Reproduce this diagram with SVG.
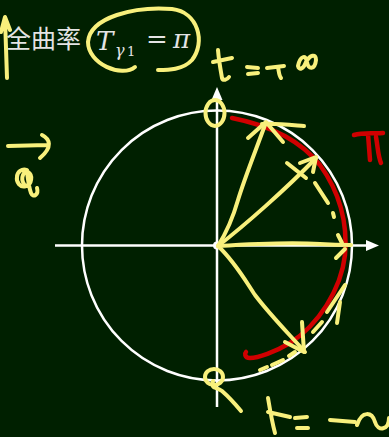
<svg xmlns="http://www.w3.org/2000/svg" width="389" height="437" viewBox="0 0 389 437">
<defs>
<style>
.w{stroke:#ffffff;stroke-width:2.5;fill:none}
.y{stroke:#f8f07c;stroke-width:4;fill:none;stroke-linecap:round;stroke-linejoin:round}
.r{stroke:#d00000;stroke-width:4.5;fill:none;stroke-linecap:round;stroke-linejoin:round}
.t{fill:#e4e4e4}
</style>
</defs>
<rect width="389" height="437" fill="#002000"/>
<g id="axes">
<circle cx="217" cy="245.5" r="135" class="w"/>
<line x1="55" y1="245.5" x2="368" y2="245.5" class="w"/>
<path d="M366,240 L379,245.5 L366,251 Z" fill="#ffffff"/>
<line x1="217" y1="407" x2="217" y2="98" class="w"/>
<path d="M211.5,100 L217,87 L222.5,100 Z" fill="#ffffff"/>
<circle cx="217" cy="245.5" r="4" fill="#ffffff"/>
</g>
<g id="title">
<text x="6" y="48" class="t" font-family="'Noto Sans CJK SC', sans-serif" font-size="25">全曲率</text>
<text x="96" y="50" class="t" font-family="'DejaVu Serif', serif" font-style="italic" font-size="26">T</text>
<text x="115" y="56" class="t" font-family="'DejaVu Serif', serif" font-style="italic" font-size="16">γ</text>
<text x="127" y="56" class="t" font-family="'DejaVu Serif', serif" font-size="13">1</text>
<text x="146" y="48" class="t" font-family="'DejaVu Serif', serif" font-size="26">=</text>
<text x="173" y="48" class="t" font-family="'DejaVu Serif', serif" font-style="italic" font-size="26">π</text>
</g>
<g id="annotations">
<path class="y" d="M7,78 L5,18 M1,32 L5,17 L10,30" stroke-width="5"/>
<path class="y" d="M135,67 C122,78 88,64 88,42 C90,17 135,6 172,9 C198,12 206,42 192,60 C183,70 168,70 158,70"/>
<path class="y" d="M218,50 C219,62 221,72 222,78 C223,81 227,80 229,77 M213,62 L232,58"/>
<path class="y" d="M247,67 L258,68 M248,74 L258,73"/>
<path class="y" d="M267,68 L284,66 M278,67 C279,72 279,76 281,78"/>
<path class="y" d="M298,66 C300,56 306,54 307,62 C308,70 315,70 316,60 C316,53 310,55 306,62 C303,70 299,70 298,66"/>
<ellipse cx="215" cy="113" rx="9.5" ry="13" class="y"/>
<path class="y" d="M8,146 L47,145 M42,135 C50,139 53,147 40,158"/>
<path class="y" d="M24,184 C20,178 24,170 28,172 C33,175 32,184 26,186 C20,188 16,182 17,177 C17,172 22,168 27,170 M27,172 C28,180 29,188 31,193 C33,198 39,195 37,188"/>
<ellipse cx="214" cy="377" rx="9" ry="8" class="y"/>
<path class="y" d="M213,381 C211,390 216,386 222,391 C230,398 236,405 241,411"/>
<path class="y" d="M268,398 C270,410 272,422 275,433 M268,412 L290,417"/>
<path class="y" d="M295,418 L307,417 M297,428 L308,428"/>
<path class="y" d="M330,420 L355,422"/>
<path class="y" d="M357,425 C362,410 372,412 375,422 C378,432 389,430 389,418"/>
<path class="r" d="M354,135 C364,132 375,134 383,133 M368,134 L370,160 M376,137 C378,148 378,156 381,163"/>
</g>
<g id="connectors">
<path class="r" d="M232,118 C268,125 300,140 320,165 C338,190 348,220 345,255 C341,290 318,325 290,343 C275,352 258,358 250,358 C244,358 245,353 246,352"/>
<path class="y" d="M218,246 C228,230 234,214 238,200 C244,180 254,155 265,125"/>
<path class="y" d="M248,138 L266,122 L283,142 M262,124 C275,123 292,125 304,126"/>
<path class="y" d="M218,246 C245,225 285,190 316,158"/>
<path class="y" d="M300,163 L316,157 L313,172 M287,163 L306,178"/>
<path class="y" d="M315,183 L328,203 M333,213 L334,217"/>
<path class="y" d="M218,246 C250,244 290,242 320,244 C335,245 345,245 351,245"/>
<path class="y" d="M338,235 L342,243 M336,258 L345,249"/>
<path class="y" d="M218,246 C235,262 245,280 255,295 C270,315 290,335 305,352"/>
<path class="y" d="M302,322 L304,352 L285,342"/>
<path class="y" d="M313,332 L322,322 M327,312 L345,285 M337,323 L340,302"/>
<path class="y" d="M260,370 L267,367 M272,365 L283,360 M289,356 L295,352"/>
</g>
</svg>
